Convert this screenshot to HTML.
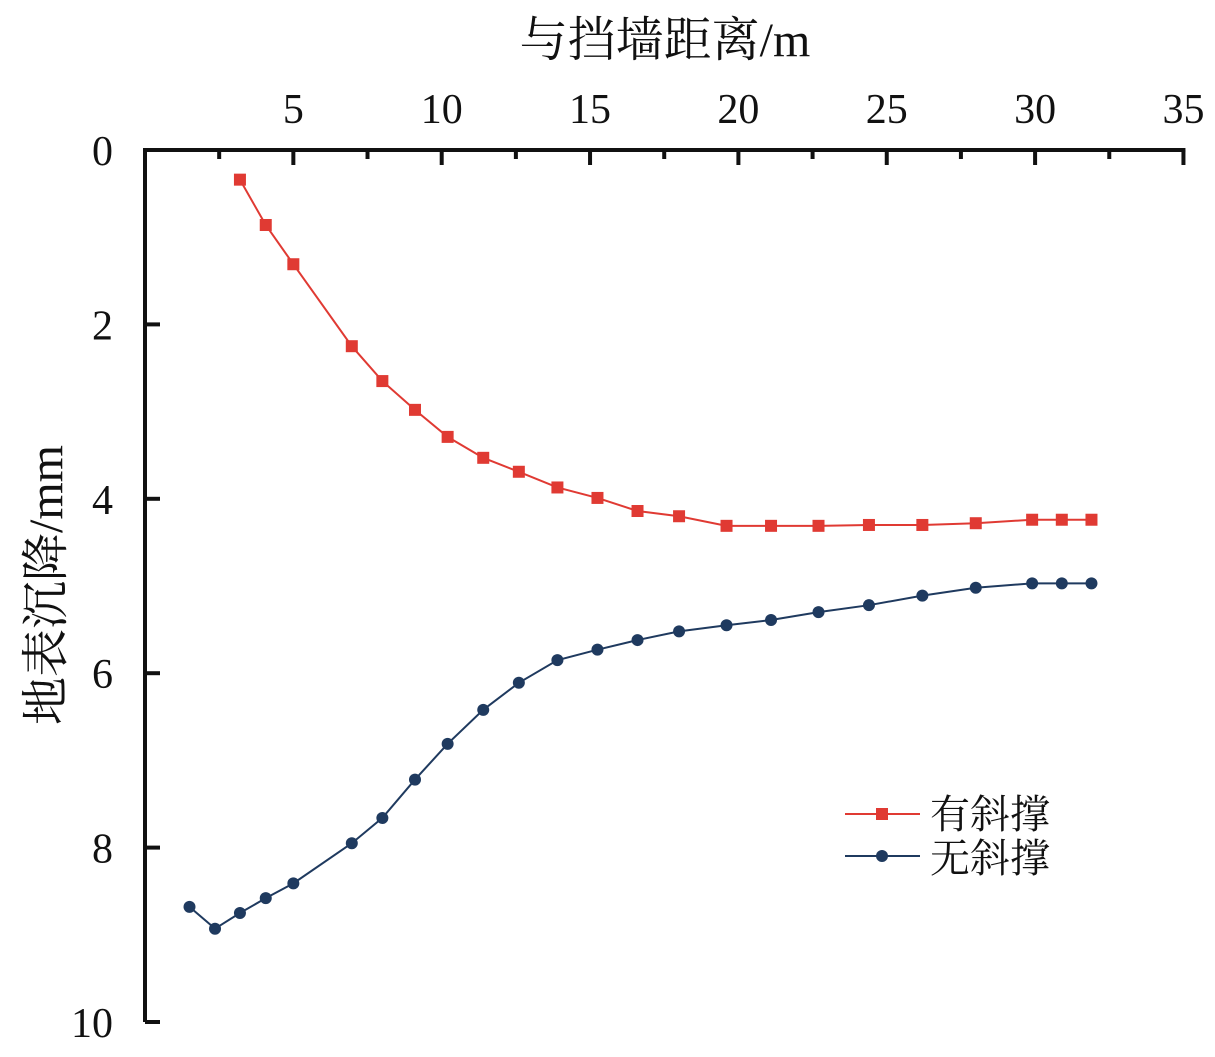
<!DOCTYPE html>
<html><head><meta charset="utf-8"><style>
body{margin:0;background:#fff}
svg text{font-family:"Liberation Serif","Noto Serif CJK SC",serif;fill:#111}
</style></head><body>
<svg width="1215" height="1052">
<g id="axes"></g><g id="plot"></g>
<text x="665" y="56" font-size="48" text-anchor="middle">与挡墙距离/m</text>
<text transform="translate(62,585) rotate(-90)" font-size="48" text-anchor="middle">地表沉降/mm</text>
<g>
<line x1="845" y1="814" x2="920" y2="814" stroke="#e03a33" stroke-width="2"/>
<rect x="876" y="808" width="12" height="12" fill="#e03a33"/>
<text x="930" y="828" font-size="40">有斜撑</text>
<line x1="845" y1="856" x2="920" y2="856" stroke="#1f3a5f" stroke-width="2"/>
<circle cx="882" cy="856" r="6" fill="#1f3a5f"/>
<text x="930" y="872" font-size="40">无斜撑</text>
</g>
</svg>
<script>
const xs=[3.2,4.07,5.0,6.97,8.0,9.1,10.2,11.4,12.6,13.9,15.25,16.6,18.0,19.6,21.1,22.7,24.4,26.2,28.0,29.9,30.9,31.9];
const withBrace=[0.34,0.86,1.31,2.25,2.65,2.98,3.29,3.53,3.69,3.87,3.99,4.14,4.2,4.31,4.31,4.31,4.3,4.3,4.28,4.24,4.24,4.24];
const xsNo=[1.5,2.36,3.2,4.07,5.0,6.97,8.0,9.1,10.2,11.4,12.6,13.9,15.25,16.6,18.0,19.6,21.1,22.7,24.4,26.2,28.0,29.9,30.9,31.9];
const withoutBrace=[8.68,8.93,8.75,8.58,8.41,7.95,7.66,7.22,6.81,6.42,6.11,5.85,5.73,5.62,5.52,5.45,5.39,5.3,5.22,5.11,5.02,4.97,4.97,4.97];
const xTicks=[5,10,15,20,25,30,35];
const yTicks=[0,2,4,6,8,10];
const X=v=>145+v*29.67, Y=v=>150+v*87.2;
const NS='http://www.w3.org/2000/svg';
function mk(t,a,p){const e=document.createElementNS(NS,t);for(const k in a)e.setAttribute(k,a[k]);p.appendChild(e);return e;}
const ax=document.getElementById('axes'), pl=document.getElementById('plot');
const xl=mk('line',{x1:X(0)-2,y1:150,x2:X(35)+2,y2:150,stroke:'#111','stroke-width':4},ax);


const yl=mk('line',{x1:X(0),y1:148,x2:X(0),y2:Y(10),stroke:'#111','stroke-width':4},ax);


for(let v=2.5;v<=35;v+=2.5){const major=v%5===0;mk('line',{x1:X(v),y1:150,x2:X(v),y2:major?165:159,stroke:'#111','stroke-width':4},ax);}
for(let v=2;v<=10;v+=2){mk('line',{x1:X(0),y1:Y(v),x2:X(0)+15,y2:Y(v),stroke:'#111','stroke-width':4},ax);}
xTicks.forEach(v=>{const t=mk('text',{x:X(v),y:123,'font-size':42,'text-anchor':'middle'},ax);t.textContent=v;

});
yTicks.forEach(v=>{const t=mk('text',{x:113,y:Y(v)+15,'font-size':42,'text-anchor':'end'},ax);t.textContent=v;

});
function series(xv,yv,col,shape,name){
const p=mk('polyline',{points:xv.map((x,i)=>X(x)+','+Y(yv[i])).join(' '),fill:'none',stroke:col,'stroke-width':2},pl);


xv.forEach((x,i)=>{let m;
if(shape==='sq')m=mk('rect',{x:X(x)-6,y:Y(yv[i])-6,width:12,height:12,fill:col},pl);
else m=mk('circle',{cx:X(x),cy:Y(yv[i]),r:6,fill:col},pl);

});
}
series(xs,withBrace,'#e03a33','sq','with-brace');
series(xsNo,withoutBrace,'#1f3a5f','ci','without-brace');
</script>
</body></html>
